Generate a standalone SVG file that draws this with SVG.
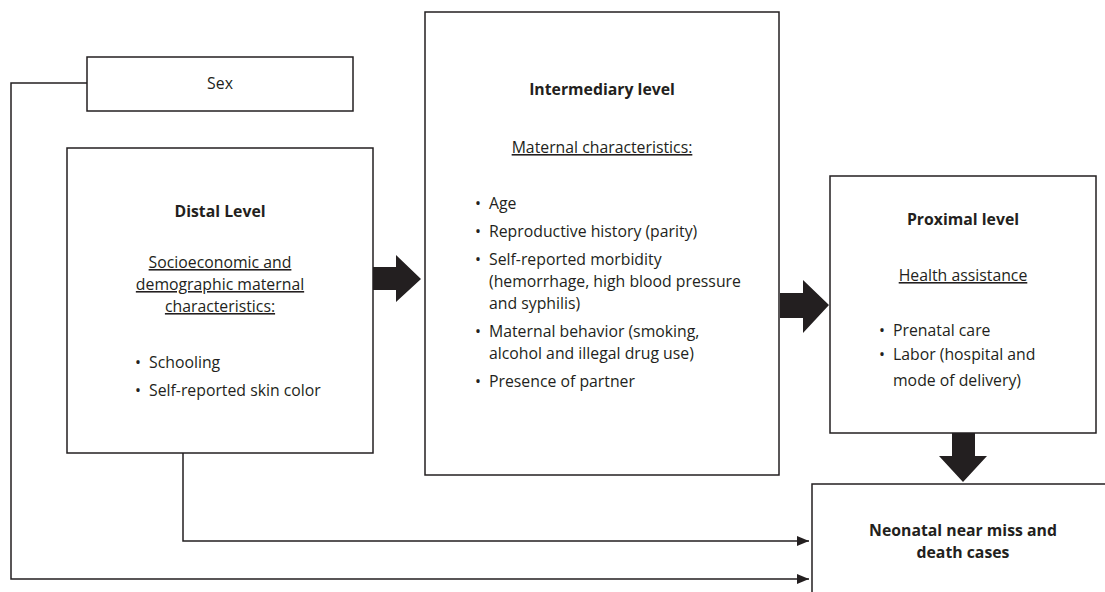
<svg xmlns="http://www.w3.org/2000/svg" width="1105" height="592" viewBox="0 0 1105 592">
<defs>
<style>
.box{fill:#fff;stroke:#231f20;stroke-width:1.5}
.t{font-family:"Open Sans","Liberation Sans",sans-serif;font-size:15.8px;fill:#231f20}
.b{font-weight:bold}
.c{text-anchor:middle}
.u{text-decoration:underline}
.ln{fill:none;stroke:#231f20;stroke-width:1.5}
.fat{fill:#231f20}
</style>
<marker id="ah" markerWidth="12" markerHeight="10" refX="12" refY="5" orient="auto" markerUnits="userSpaceOnUse">
<path d="M0,0 L12,5 L0,10 Z" fill="#231f20"/>
</marker>
</defs>
<rect width="1105" height="592" fill="#fff"/>
<g id="connectors">
<path class="ln" d="M87,83 H11 V579 H809" marker-end="url(#ah)"/>
<path class="ln" d="M183,453 V541 H809" marker-end="url(#ah)"/>
<path class="fat" d="M373,267 H396 V255 L421,279 L396,302 V290 H373 Z"/>
<path class="fat" d="M780,293 H803 V280 L829,305 L803,333 V318 H780 Z"/>
<path class="fat" d="M952,433 H975 V456 H987 L963,482 L939,456 H952 Z"/>
</g>
<g id="sex">
<rect class="box" x="87" y="57" width="266" height="54"/>
<text class="t c" x="220" y="89">Sex</text>
</g>
<g id="distal">
<rect class="box" x="67" y="148" width="306" height="305"/>
<text class="t b c" x="220" y="217">Distal Level</text>
<text class="t c u" x="220" y="268">Socioeconomic and</text>
<text class="t c u" x="220" y="290">demographic maternal</text>
<text class="t c u" x="220" y="312">characteristics:</text>
<text class="t" x="135" y="368">•</text><text class="t" x="149" y="368">Schooling</text>
<text class="t" x="135" y="396">•</text><text class="t" x="149" y="396">Self-reported skin color</text>
</g>
<g id="intermediary">
<rect class="box" x="425" y="12" width="354" height="463"/>
<text class="t b c" x="602" y="95">Intermediary level</text>
<text class="t c u" x="602" y="153">Maternal characteristics:</text>
<text class="t" x="475" y="209">•</text><text class="t" x="489" y="209">Age</text>
<text class="t" x="475" y="237">•</text><text class="t" x="489" y="237">Reproductive history (parity)</text>
<text class="t" x="475" y="265">•</text><text class="t" x="489" y="265">Self-reported morbidity</text>
<text class="t" x="489" y="287">(hemorrhage, high blood pressure</text>
<text class="t" x="489" y="309">and syphilis)</text>
<text class="t" x="475" y="337">•</text><text class="t" x="489" y="337">Maternal behavior (smoking,</text>
<text class="t" x="489" y="359">alcohol and illegal drug use)</text>
<text class="t" x="475" y="387">•</text><text class="t" x="489" y="387">Presence of partner</text>
</g>
<g id="proximal">
<rect class="box" x="830" y="176" width="266" height="257"/>
<text class="t b c" x="963" y="225">Proximal level</text>
<text class="t c u" x="963" y="281">Health assistance</text>
<text class="t" x="879" y="336">•</text><text class="t" x="893" y="336">Prenatal care</text>
<text class="t" x="879" y="360">•</text><text class="t" x="893" y="360">Labor (hospital and</text>
<text class="t" x="893" y="386">mode of delivery)</text>
</g>
<g id="neonatal">
<rect class="box" x="812" y="484" width="300" height="120"/>
<text class="t b c" x="963" y="536">Neonatal near miss and</text>
<text class="t b c" x="963" y="558">death cases</text>
</g>
</svg>
